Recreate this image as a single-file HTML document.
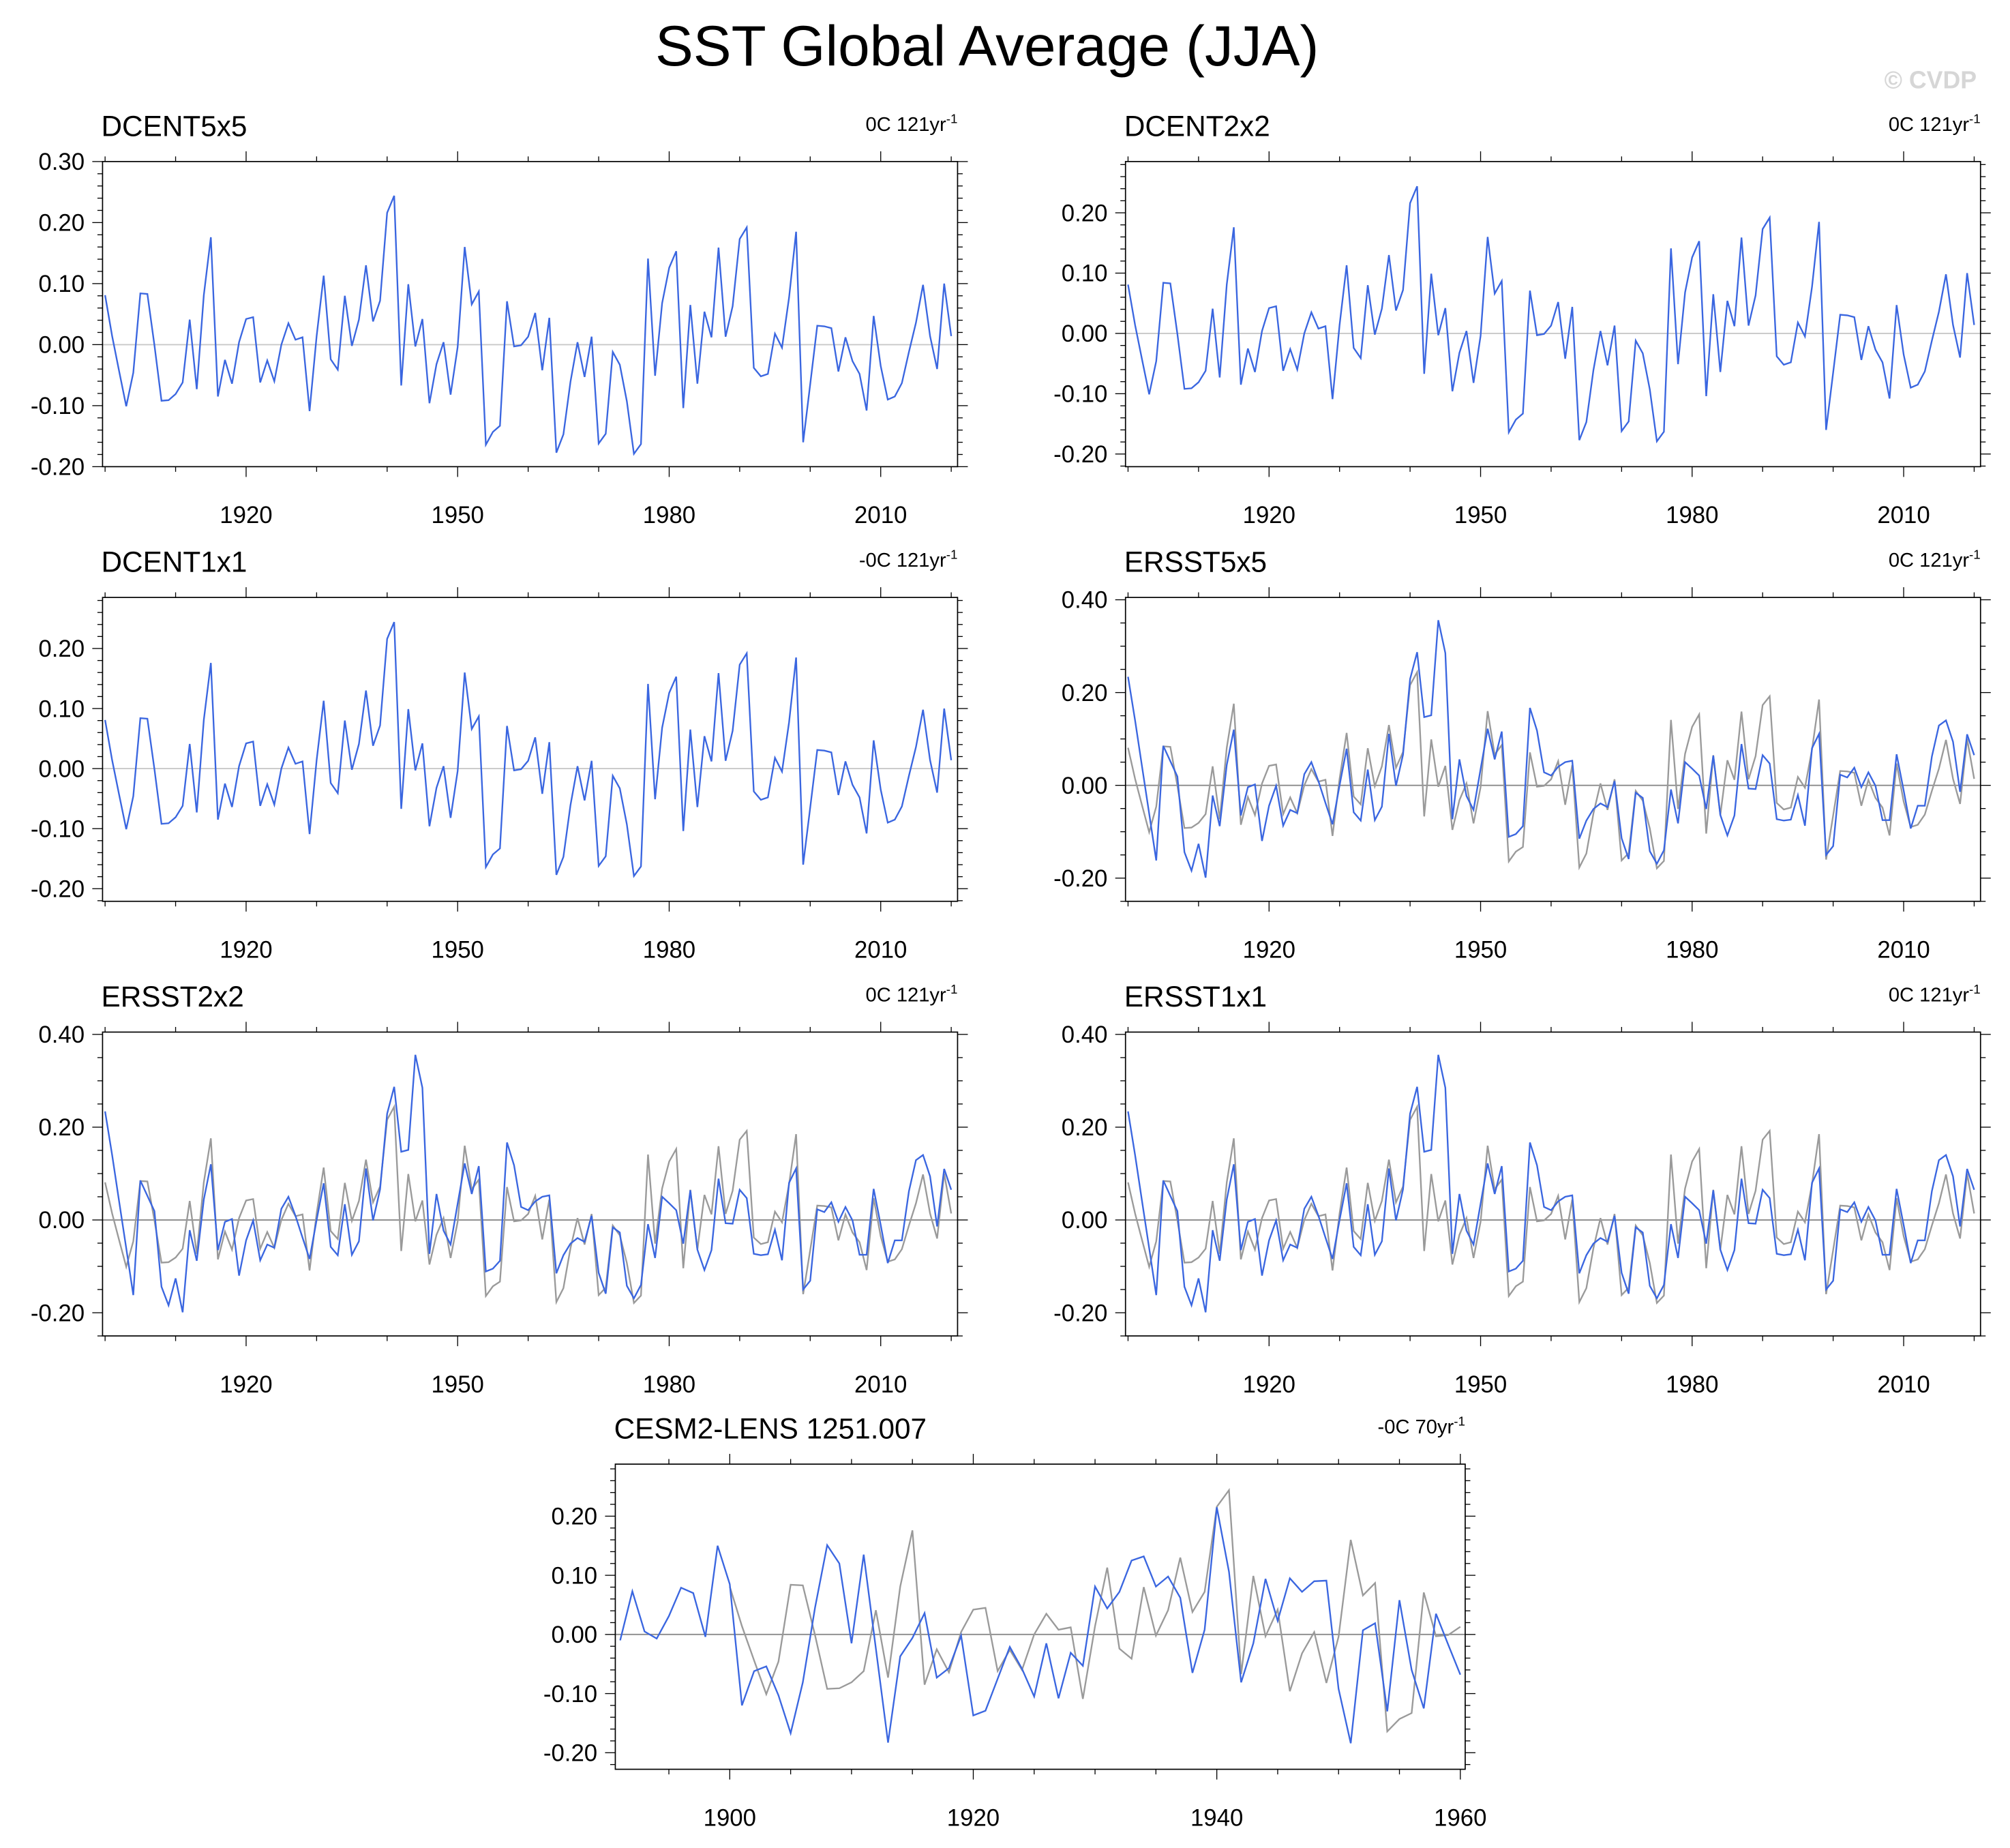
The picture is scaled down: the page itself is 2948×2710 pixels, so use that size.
<!DOCTYPE html>
<html><head><meta charset="utf-8">
<style>
html,body{margin:0;padding:0;background:#fff;}
svg{display:block;font-family:"Liberation Sans",Arial,sans-serif;}
</style></head>
<body>
<svg id="chart" xmlns="http://www.w3.org/2000/svg" width="2948" height="2710" viewBox="0 0 1568 1441.4">
<rect x="0" y="0" width="1568" height="1441.4" fill="#fff"/>
<text x="770" y="51" font-size="44.5" text-anchor="middle" fill="#000">SST Global Average (JJA)</text>
<text x="1542" y="69" font-size="19" font-weight="bold" text-anchor="end" fill="#d6d6d6">© CVDP</text>
</svg>
<script>
// ---- data ----
const dcentStart = 1900;
const dcent = [0.081,0.014,-0.044,-0.101,-0.046,0.084,0.083,-0.001,-0.092,-0.091,
-0.081,-0.062,0.041,-0.073,0.081,0.176,-0.085,-0.025,-0.064,0.004,
0.042,0.045,-0.062,-0.026,-0.060,0.000,0.035,0.008,0.012,-0.109,
0.014,0.113,-0.024,-0.041,0.080,-0.002,0.041,0.130,0.038,0.072,
0.216,0.244,-0.067,0.099,-0.003,0.042,-0.096,-0.032,0.004,-0.082,
-0.004,0.160,0.066,0.087,-0.164,-0.143,-0.133,0.071,-0.003,-0.001,
0.013,0.052,-0.042,0.044,-0.177,-0.147,-0.061,0.004,-0.053,0.013,
-0.162,-0.146,-0.012,-0.033,-0.093,-0.179,-0.163,0.141,-0.051,0.068,
0.126,0.153,-0.104,0.065,-0.064,0.054,0.012,0.159,0.013,0.063,
0.173,0.192,-0.038,-0.052,-0.048,0.018,-0.005,0.077,0.185,-0.160,
-0.065,0.031,0.030,0.027,-0.044,0.012,-0.027,-0.048,-0.108,0.047,
-0.035,-0.090,-0.085,-0.063,-0.012,0.036,0.098,0.014,-0.040,0.100,0.014];
const ersstStart = 1900;
const ersst = [0.234,0.140,0.039,-0.061,-0.162,0.085,0.052,0.019,-0.144,-0.184,
-0.126,-0.199,-0.022,-0.088,0.044,0.120,-0.065,-0.004,0.002,-0.120,
-0.044,-0.001,-0.087,-0.053,-0.060,0.024,0.050,0.009,-0.038,-0.084,
0.000,0.079,-0.058,-0.076,0.034,-0.075,-0.046,0.111,-0.001,0.066,
0.229,0.287,0.147,0.151,0.356,0.285,-0.073,0.056,-0.023,-0.053,
0.035,0.122,0.056,0.116,-0.111,-0.105,-0.088,0.167,0.118,0.028,
0.021,0.040,0.050,0.053,-0.115,-0.076,-0.051,-0.039,-0.047,0.009,
-0.114,-0.159,-0.016,-0.027,-0.142,-0.169,-0.140,-0.009,-0.082,0.050,
0.036,0.021,-0.051,0.064,-0.064,-0.108,-0.065,0.089,-0.007,-0.008,
0.065,0.047,-0.073,-0.076,-0.074,-0.021,-0.087,0.080,0.111,-0.150,
-0.131,0.023,0.017,0.038,-0.004,0.028,-0.001,-0.075,-0.075,0.067,
-0.011,-0.093,-0.044,-0.044,0.062,0.129,0.140,0.094,-0.014,0.110,0.065];
const cesmStart = 1891;
const cesm = [-0.010,0.073,0.005,-0.007,0.031,0.079,0.070,-0.004,0.150,0.085,
-0.120,-0.062,-0.054,-0.103,-0.167,-0.081,0.045,0.151,0.120,-0.015,
0.135,-0.024,-0.183,-0.037,-0.006,0.036,-0.073,-0.057,-0.002,-0.137,
-0.129,-0.075,-0.021,-0.058,-0.105,-0.015,-0.108,-0.031,-0.053,0.081,
0.044,0.072,0.125,0.132,0.081,0.098,0.062,-0.065,0.008,0.215,
0.106,-0.081,-0.015,0.094,0.023,0.095,0.072,0.090,0.091,-0.092,
-0.184,0.007,0.019,-0.130,0.058,-0.060,-0.125,0.035,-0.017,-0.068];
const longXTicks = [1920,1950,1980,2010];
const cesmXTicks = [1900,1920,1940,1960];
const yTicks1 = [0.30,0.20,0.10,0.00,-0.10,-0.20];
const yTicks2 = [0.20,0.10,0.00,-0.10,-0.20];
const yTicksE = [0.40,0.20,0.00,-0.20];

const NS = "http://www.w3.org/2000/svg";
const svg = document.getElementById('chart');
function mk(tag, attrs, parent){
  const e = document.createElementNS(NS, tag);
  for (const k in attrs) e.setAttribute(k, attrs[k]);
  (parent||svg).appendChild(e);
  return e;
}

function panel(o){
  const g = mk('g', {});
  
  
  const sx = v => o.x0 + (v - o.xmin) / (o.xmax - o.xmin) * (o.x1 - o.x0);
  const sy = v => o.y1 - (v - o.ymin) / (o.ymax - o.ymin) * (o.y1 - o.y0);
  const z = mk('line', {x1:o.x0, x2:o.x1, y1:sy(0), y2:sy(0), stroke:o.zeroColor, 'stroke-width':1}, g);
  
  
  o.series.forEach(s => {
    const n = Math.min(s.data.length, s.maxN || s.data.length);
    let d = '';
    for (let i = 0; i < n; i++) d += (i ? 'L' : 'M') + sx(s.start + i).toFixed(2) + ' ' + sy(s.data[i]).toFixed(2);
    const p = mk('path', {d:d, fill:'none', stroke:s.color, 'stroke-width':1.25, 'stroke-linejoin':'miter'}, g);
    
    
  });
  const fr = mk('rect', {x:o.x0, y:o.y0, width:o.x1-o.x0, height:o.y1-o.y0, fill:'none', stroke:'#000', 'stroke-width':0.9}, g);
  
  
  const tk = mk('g', {stroke:'#000', 'stroke-width':0.7}, g);
  
  
  const ylo = Math.ceil(o.ymin / o.yMinor - 1e-6), yhi = Math.floor(o.ymax / o.yMinor + 1e-6);
  for (let k = ylo; k <= yhi; k++) {
    const v = k * o.yMinor;
    const major = o.yTicks.some(t => Math.abs(t - v) < 1e-6);
    const L = major ? 8 : 4, y = sy(v);
    mk('line', {x1:o.x0-L, x2:o.x0, y1:y, y2:y}, tk);
    mk('line', {x1:o.x1, x2:o.x1+L, y1:y, y2:y}, tk);
  }
  o.yTicks.forEach(t => {
    const lbl = mk('text', {x:o.x0-14, y:sy(t)+6.5, 'font-size':18.5, 'text-anchor':'end', fill:'#000'}, g);
    
    
    lbl.textContent = t.toFixed(2);
  });
  for (let yr = Math.ceil(o.xmin / o.xMinor) * o.xMinor; yr <= o.xmax; yr += o.xMinor) {
    const major = o.xTicks.includes(yr);
    const L = major ? 8 : 4, x = sx(yr);
    mk('line', {x1:x, x2:x, y1:o.y1, y2:o.y1+L}, tk);
    mk('line', {x1:x, x2:x, y1:o.y0-L, y2:o.y0}, tk);
  }
  o.xTicks.forEach(t => {
    const lbl = mk('text', {x:sx(t), y:o.y1+44, 'font-size':18.5, 'text-anchor':'middle', fill:'#000'}, g);
    
    
    lbl.textContent = t;
  });
  const tt = mk('text', {x:o.x0-1, y:o.y0-20, 'font-size':22.5, fill:'#000'}, g);
  
  
  tt.textContent = o.title;
  const nt = mk('text', {x:o.x1, y:o.y0-24, 'font-size':15.5, 'text-anchor':'end', fill:'#000'}, g);
  
  
  nt.textContent = o.note;
  const sup = mk('tspan', {'font-size':10, dy:-6}, nt);
  sup.textContent = '-1';
}

const L0 = 80, L1 = 747, R0 = 878, R1 = 1545;
const rows = [[126,364],[466,703],[805,1042]];
const xmn = 1899.64, xmx = 2020.9;
const blue = '#3a66e0', gray = '#9a9a9a';

panel({name:'dcent5x5', title:'DCENT5x5', note:'0C 121yr', x0:L0, x1:L1, y0:rows[0][0], y1:rows[0][1],
  xmin:xmn, xmax:xmx, ymin:-0.20, ymax:0.30, yTicks:yTicks1, yMinor:0.02, xTicks:longXTicks, xMinor:10,
  zeroColor:'#c8c8c8', series:[{name:'dcent5x5-line', data:dcent, start:dcentStart, color:blue}]});
panel({name:'dcent2x2', title:'DCENT2x2', note:'0C 121yr', x0:R0, x1:R1, y0:rows[0][0], y1:rows[0][1],
  xmin:xmn, xmax:xmx, ymin:-0.221, ymax:0.285, yTicks:yTicks2, yMinor:0.02, xTicks:longXTicks, xMinor:10,
  zeroColor:'#c8c8c8', series:[{name:'dcent2x2-line', data:dcent, start:dcentStart, color:blue}]});
panel({name:'dcent1x1', title:'DCENT1x1', note:'-0C 121yr', x0:L0, x1:L1, y0:rows[1][0], y1:rows[1][1],
  xmin:xmn, xmax:xmx, ymin:-0.221, ymax:0.285, yTicks:yTicks2, yMinor:0.02, xTicks:longXTicks, xMinor:10,
  zeroColor:'#c8c8c8', series:[{name:'dcent1x1-line', data:dcent, start:dcentStart, color:blue}]});
[['ersst5x5','ERSST5x5',R0,R1,1],['ersst2x2','ERSST2x2',L0,L1,2],['ersst1x1','ERSST1x1',R0,R1,2]].forEach(a => {
  panel({name:a[0], title:a[1], note:'0C 121yr', x0:a[2], x1:a[3], y0:rows[a[4]][0], y1:rows[a[4]][1],
    xmin:xmn, xmax:xmx, ymin:-0.25, ymax:0.405, yTicks:yTicksE, yMinor:0.05, xTicks:longXTicks, xMinor:10,
    zeroColor:'#8a8a8a', series:[{name:'dcent-reference-line', data:dcent, start:dcentStart, color:gray},
                                 {name:a[0]+'-line', data:ersst, start:ersstStart, color:blue}]});
});
panel({name:'cesm2-lens', title:'CESM2-LENS 1251.007', note:'-0C 70yr', x0:480, x1:1143, y0:1142, y1:1380,
  xmin:1890.6, xmax:1960.4, ymin:-0.228, ymax:0.288, yTicks:yTicks2, yMinor:0.02, xTicks:cesmXTicks, xMinor:5,
  zeroColor:'#8a8a8a', series:[{name:'dcent-reference-line', data:dcent, start:dcentStart, color:gray, maxN:61},
                               {name:'cesm2-lens-line', data:cesm, start:cesmStart, color:blue}]});
</script>
</body></html>
